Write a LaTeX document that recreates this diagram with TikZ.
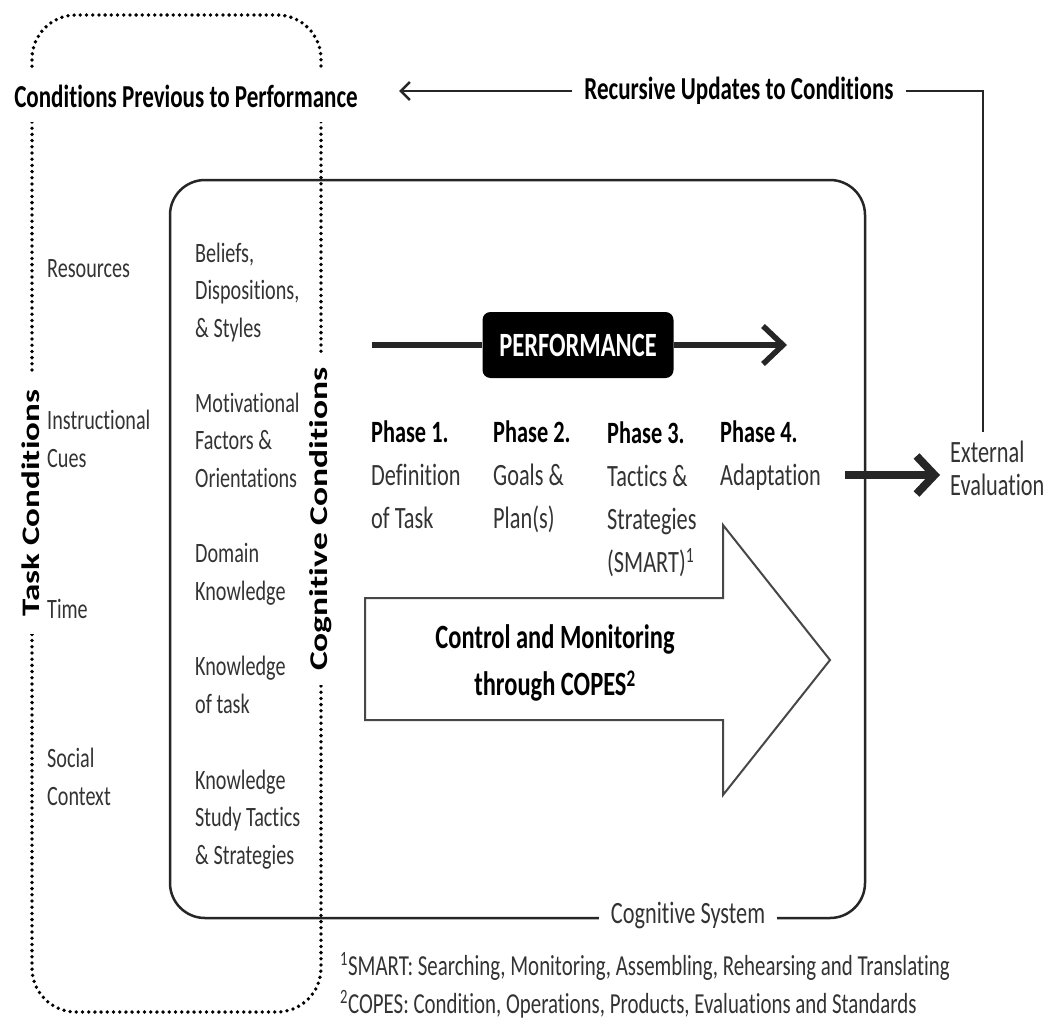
\documentclass[tikz,border=0pt]{standalone}
\usepackage{fontspec}
\usepackage{graphicx}
\setmainfont{Carlito}[FakeStretch=0.72, Ligatures=NoCommon]
\newfontfamily\rotfont{Carlito}[Ligatures=NoCommon]
\usetikzlibrary{arrows.meta}
\definecolor{ink}{HTML}{262626}
\definecolor{txt}{HTML}{333333}

\begin{document}
\begin{tikzpicture}[x=1pt,y=-1pt,
  every node/.style={inner sep=0pt, text=txt},
  % multi-line nodes are anchored at the baseline of their last line
  itemtxt/.style={anchor=base west, align=left, font=\fontsize{28}{37.5}\selectfont},
  phasetxt/.style={anchor=base west, align=left, font=\fontsize{31}{43}\selectfont},
  headtxt/.style={font=\bfseries\fontsize{32}{38}\selectfont, text=black, fill=white, inner xsep=11pt, inner ysep=4pt},
  vhead/.style={rotate=90, fill=white, text=black, inner ysep=2pt},
  dotline/.style={line width=3.8pt, line cap=round, dash pattern=on 0pt off 6.2pt, black},
  boxline/.style={line width=2.5pt, draw=ink},
]
\fill[white] (0,0) rectangle (1056,1019);
\useasboundingbox (0,0) rectangle (1056,1019);

% cognitive system frame
\draw[boxline, rounded corners=35pt] (170,180) rectangle (865,918);

% conditions previous to performance (dotted frame)
\draw[dotline, rounded corners=44pt] (32,600) -- (32,15) -- (321,15) -- (321,1012) -- (32,1012) -- cycle;

% headings on the dotted frame
\node[headtxt, inner ysep=15pt] (cpp) at (186,96) {Conditions Previous to Performance};
\node[vhead, inner xsep=18pt] (tc) at (31,503)
  {\scalebox{1}[0.72]{\rotfont\bfseries\fontsize{35}{40}\selectfont Task Conditions}};
\node[vhead, inner xsep=14pt] (cc) at (321,519)
  {\scalebox{1}[0.72]{\rotfont\bfseries\fontsize{35.5}{40}\selectfont Cognitive Conditions}};

% task conditions
\node[itemtxt] (res) at (47,277) {Resources};
\node[itemtxt] (ic) at (47,467) {Instructional\\Cues};
\node[itemtxt] (time) at (47,618) {Time};
\node[itemtxt] (soc) at (47,805) {Social\\Context};

% cognitive conditions
\node[itemtxt] (bel) at (195,337) {Beliefs,\\Dispositions,\\\& Styles};
\node[itemtxt] (mot) at (195,487) {Motivational\\Factors \&\\Orientations};
\node[itemtxt] (dom) at (195,600) {Domain\\Knowledge};
\node[itemtxt] (kot) at (195,713) {Knowledge\\of task};
\node[itemtxt] (kst) at (195,864) {Knowledge\\Study Tactics\\\& Strategies};

% performance bar
\node[fill=black, rounded corners=8pt, minimum width=191pt, minimum height=66pt,
      text=white, font=\bfseries\fontsize{34}{40}\selectfont] (perf) at (578,345) {PERFORMANCE};
\coordinate (pstart) at (372,345);
\coordinate (pend) at (787,345);
\draw[line width=5.5pt, ink] (pstart) -- (perf);
\draw[line width=5.5pt, ink, -{Straight Barb[length=20pt,width=38pt]}] (perf) -- (pend);

% phases
\node[phasetxt] (ph1) at (371,528) {\textbf{\color{black}Phase 1.}\\Definition\\of Task};
\node[phasetxt] (ph2) at (493,528) {\textbf{\color{black}Phase 2.}\\Goals \&\\Plan(s)};
\node[phasetxt] (ph3) at (607,572) {\textbf{\color{black}Phase 3.}\\Tactics \&\\Strategies\\(SMART)\textsuperscript{1}};
\node[phasetxt] (ph4) at (720,485) {\textbf{\color{black}Phase 4.}\\Adaptation};

% control and monitoring arrow
\draw[line width=2pt, draw=ink!85, line join=miter]
  (365,598) -- (723,598) -- (723,525) -- (830,660) -- (723,795) -- (723,720) -- (365,720) -- cycle;
\node[align=center, text=black, font=\bfseries\fontsize{34}{47}\selectfont] (cm) at (555,663)
  {Control and Monitoring\\through COPES\textsuperscript{2}};

% external evaluation
\node[itemtxt, font=\fontsize{31}{33}\selectfont] (ext) at (950,495) {External\\Evaluation};
\coordinate (a4) at (845,475);
\draw[line width=8pt, ink, -{Straight Barb[length=18pt,width=38pt]}] (a4) -- ([xshift=-10pt]ext.west |- a4);

% recursive updates
\node[headtxt, inner xsep=12pt, inner ysep=2pt] (rec) at (739,91) {Recursive Updates to Conditions};
\coordinate (recL) at (399,0);
\coordinate (fbx) at (983,0);
\draw[boxline, -{Straight Barb[length=9pt,width=18pt]}] (rec.west) -- (rec.west -| recL);
\draw[boxline] (rec.east) -- (rec.east -| fbx) -- ([yshift=8pt]fbx |- ext.north);

% frame label
\node[fill=white, inner xsep=12pt, inner ysep=3pt, font=\fontsize{31}{36}\selectfont] (cs) at (688,915) {Cognitive System};

% footnotes
\node[anchor=base west, align=left, font=\fontsize{29}{38}\selectfont] (fn) at (340,1013)
  {\textsuperscript{1}SMART: Searching, Monitoring, Assembling, Rehearsing and Translating\\
   \textsuperscript{2}COPES: Condition, Operations, Products, Evaluations and Standards};
\end{tikzpicture}
\end{document}
